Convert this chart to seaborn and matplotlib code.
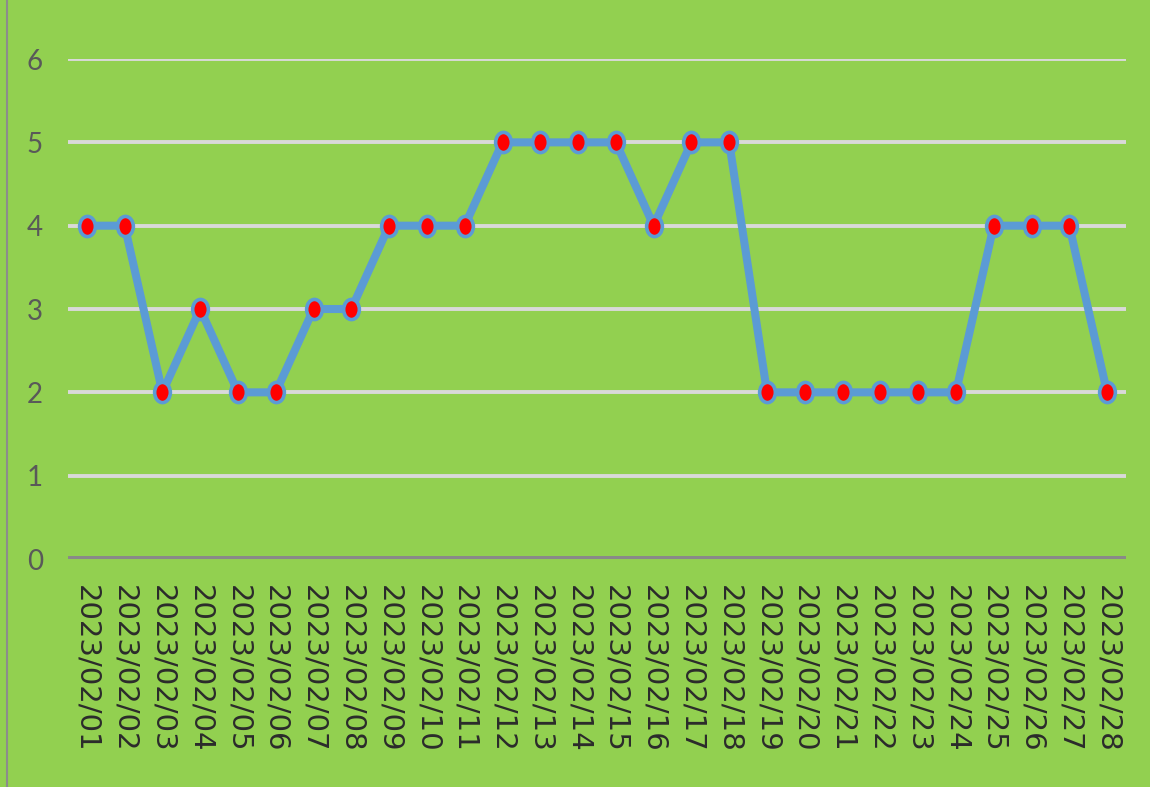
import matplotlib
matplotlib.use("Agg")
import matplotlib.pyplot as plt
import seaborn as sns
import pandas as pd
from matplotlib.lines import Line2D
from matplotlib.path import Path
from matplotlib.transforms import Affine2D

# data
dates = [f"2023/02/{d:02d}" for d in range(1, 29)]
values = [4, 4, 2, 3, 2, 2, 3, 3, 4, 4, 4, 5, 5, 5, 5, 4, 5, 5,
          2, 2, 2, 2, 2, 2, 4, 4, 4, 2]
yticks = [0, 1, 2, 3, 4, 5, 6]

df = pd.DataFrame({"date": dates, "value": values})

bg = "#92D050"
sns.set_theme(style="white")
plt.rcParams["font.family"] = ["Lato", "DejaVu Sans"]

# slightly tall ellipse marker
ellipse = Path.unit_circle().transformed(Affine2D().scale(0.78, 1.0))

fig = plt.figure(figsize=(11.5, 7.87), dpi=100, facecolor=bg)
ax = fig.add_axes([0.0591, 0.2897, 0.920, 0.6353])
ax.set_facecolor(bg)

# gridlines
for y in yticks[1:]:
    ax.axhline(y, color="#D9D9D9", lw=2.8, zorder=1)
ax.axhline(0, color="#898989", lw=5, zorder=1)

sns.lineplot(data=df, x="date", y="value", ax=ax, sort=False,
             color="#5B9BD5", linewidth=5.8, marker=ellipse, markersize=14.5,
             markerfacecolor="#FF0000", markeredgecolor="#5B9BD5",
             markeredgewidth=2.6, zorder=3)

ax.set_xlim(-0.5, len(dates) - 0.5)
ax.set_ylim(0, 6)
ax.set_yticks(yticks)
ax.set_xticks(range(len(dates)))
ax.set_xticklabels(dates, rotation=270, ha="center", va="top",
                   fontsize=21, color="#2B2B2B", family="DejaVu Sans")
ax.tick_params(axis="x", length=0, pad=19)
ax.tick_params(axis="y", length=0, pad=18, labelsize=20, labelcolor="#595959")
ax.set_xlabel("")
ax.set_ylabel("")
for s in ax.spines.values():
    s.set_visible(False)

# left border of the chart area
fig.add_artist(Line2D([0.0065, 0.0065], [0, 1], color="#8C8C8C", lw=1.5,
                      transform=fig.transFigure))

fig.savefig("out.png", dpi=100, facecolor=bg)
